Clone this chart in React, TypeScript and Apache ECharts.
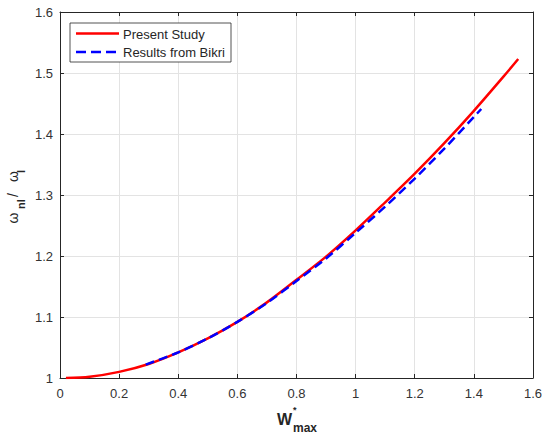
import React, { useEffect, useRef } from "react";
import * as echarts from "echarts";

// Present Study curve (W*max, omega_nl/omega_l)
const presentX = [0.02, 0.1, 0.2, 0.3, 0.4, 0.5, 0.6, 0.7, 0.8, 0.9, 1.0, 1.1, 1.2, 1.3, 1.4, 1.5, 1.55];
const presentY = [1.0, 1.002, 1.01, 1.023, 1.042, 1.065, 1.092, 1.124, 1.161, 1.199, 1.242, 1.288, 1.335, 1.385, 1.438, 1.494, 1.523];

// Results from Bikri
const bikriX = [0.29, 0.4, 0.5, 0.6, 0.7, 0.8, 0.9, 1.0, 1.1, 1.2, 1.3, 1.4, 1.425];
const bikriY = [1.022, 1.042, 1.065, 1.092, 1.123, 1.159, 1.196, 1.238, 1.281, 1.327, 1.376, 1.428, 1.441];

const seriesNames = ["Present Study", "Results from Bikri"];
const seriesColors = ["#ff0000", "#0000ff"];

const xRange = { min: 0, max: 1.6, interval: 0.2 };
const yRange = { min: 1, max: 1.6, interval: 0.1 };

const FONT = "'Liberation Sans', Arial, Helvetica, sans-serif";
const AXIS_COLOR = "#262626";
const LABEL_COLOR = "#333333";
const GRID_COLOR = "#e3e3e3";

export default function App() {
  const ref = useRef<HTMLDivElement>(null);

  useEffect(() => {
    document.body.style.margin = "0";
    if (!ref.current) return;
    const chart = echarts.init(ref.current, undefined, { renderer: "svg" });

    const pairs = (xs: number[], ys: number[]) => xs.map((x, i) => [x, ys[i]]);

    const mainAxisCommon = {
      axisLine: { show: true, lineStyle: { color: AXIS_COLOR, width: 1 } },
      axisTick: { show: true, inside: true, length: 4, lineStyle: { color: AXIS_COLOR } },
      axisLabel: { color: LABEL_COLOR, fontSize: 13, fontFamily: FONT },
    };

    const mirrorAxisCommon = {
      axisLine: { show: true, onZero: false, lineStyle: { color: AXIS_COLOR, width: 1 } },
      axisTick: { show: true, inside: true, length: 4, lineStyle: { color: AXIS_COLOR } },
      axisLabel: { show: false },
      splitLine: { show: false },
    };

    const subText = (
      x: number,
      y: number,
      text: string,
      size: number,
      bold: boolean,
      rotate = 0
    ) => ({
      type: "text",
      x,
      y,
      rotation: rotate,
      style: {
        text,
        fill: AXIS_COLOR,
        font: `${bold ? "bold " : ""}${size}px ${FONT}`,
        align: "left",
        verticalAlign: "middle",
      },
    });

    const R = Math.PI / 2;

    chart.setOption({
      animation: false,
      backgroundColor: "#ffffff",
      grid: { left: 60, right: 17, top: 12, bottom: 62, containLabel: false },
      xAxis: [
        {
          type: "value",
          position: "bottom",
          ...xRange,
          ...mainAxisCommon,
          axisLine: { ...mainAxisCommon.axisLine, onZero: false },
          axisLabel: { ...mainAxisCommon.axisLabel, margin: 9 },
          splitLine: { show: true, lineStyle: { color: GRID_COLOR, width: 1 } },
        },
        { type: "value", position: "top", ...xRange, ...mirrorAxisCommon },
      ],
      yAxis: [
        {
          type: "value",
          position: "left",
          ...yRange,
          ...mainAxisCommon,
          axisLine: { ...mainAxisCommon.axisLine, onZero: false },
          axisLabel: { ...mainAxisCommon.axisLabel, margin: 7 },
          splitLine: { show: true, lineStyle: { color: GRID_COLOR, width: 1 } },
        },
        { type: "value", position: "right", ...yRange, ...mirrorAxisCommon },
      ],
      series: [
        {
          name: seriesNames[0],
          type: "line",
          data: pairs(presentX, presentY),
          showSymbol: false,
          symbol: "none",
          smooth: 0.3,
          lineStyle: { color: seriesColors[0], width: 2.5 },
          z: 2,
        },
        {
          name: seriesNames[1],
          type: "line",
          data: pairs(bikriX, bikriY),
          showSymbol: false,
          symbol: "none",
          smooth: 0.3,
          lineStyle: { color: seriesColors[1], width: 2.5, type: [9, 5] },
          z: 3,
        },
      ],
      graphic: [
        // legend box
        {
          type: "rect",
          shape: { x: 70, y: 23, width: 161, height: 39 },
          style: { fill: "#ffffff", stroke: AXIS_COLOR, lineWidth: 0.8 },
          z: 10,
        },
        {
          type: "line",
          shape: { x1: 76, y1: 33.5, x2: 119, y2: 33.5 },
          style: { stroke: seriesColors[0], lineWidth: 2.5 },
          z: 11,
        },
        {
          type: "line",
          shape: { x1: 76, y1: 52, x2: 119, y2: 52 },
          style: { stroke: seriesColors[1], lineWidth: 2.5, lineDash: [10, 5] },
          z: 11,
        },
        { ...subText(123, 34.5, seriesNames[0], 13, false), z: 11 },
        { ...subText(123, 52, seriesNames[1], 13, false), z: 11 },
        // x axis title: W*_max
        subText(277, 419, "W", 16, true),
        subText(293, 410, "*", 9, true),
        subText(293, 428, "max", 12, true),
        // y axis title: omega_nl / omega_l (rotated, reading upward)
        subText(12.6, 223.5, "ω", 14, false, R),
        subText(21.4, 209, "nl", 11, true, R),
        subText(12.6, 197, "/", 14, false, R),
        subText(12.6, 182, "ω", 14, false, R),
        subText(21.4, 173, "l", 11, true, R),
      ],
    });

    return () => chart.dispose();
  }, []);

  return <div ref={ref} style={{ width: 550, height: 440 }} />;
}
